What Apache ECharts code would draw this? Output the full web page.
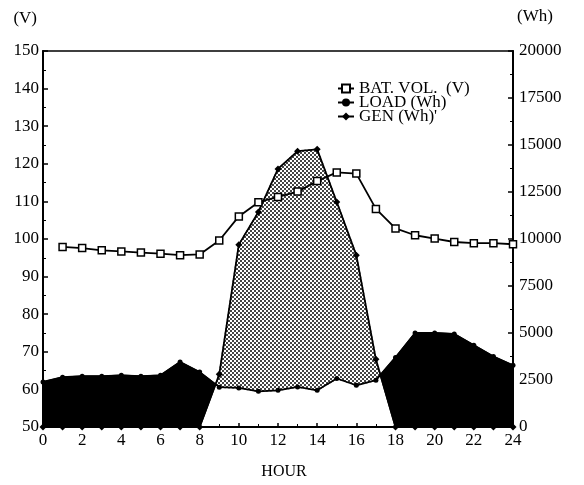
<!DOCTYPE html>
<html>
<head>
<meta charset="utf-8">
<script src="https://cdn.jsdelivr.net/npm/echarts@6/dist/echarts.min.js"></script>
<style>
  html, body { margin: 0; padding: 0; background: #fff; }
  #main { width: 584px; height: 485px; }
</style>
</head>
<body>
<div id="main"></div>
<script>
var hours = [0, 1, 2, 3, 4, 5, 6, 7, 8, 9, 10, 11, 12, 13, 14, 15, 16, 17, 18, 19, 20, 21, 22, 23, 24];
// battery voltage (V), no reading at hour 0
var batVol = [null, 97.9, 97.6, 97.0, 96.7, 96.4, 96.1, 95.7, 95.9, 99.6, 106.0, 109.8, 111.2, 112.6, 115.4, 117.7, 117.4, 108.0, 102.8, 101.0, 100.1, 99.2, 98.9, 98.9, 98.6];
// load (Wh)
var load = [2400, 2650, 2700, 2700, 2750, 2700, 2750, 3460, 2920, 2120, 2080, 1900, 1950, 2130, 1950, 2580, 2220, 2490, 3700, 5000, 5000, 4950, 4350, 3750, 3280];
// generation (Wh)
var gen = [0, 0, 0, 0, 0, 0, 0, 0, 0, 2800, 9700, 11440, 13730, 14670, 14770, 11970, 9130, 3600, 0, 0, 0, 0, 0, 0, 0];

var voltTicks = [50, 150, 10];
var whTicks = [0, 20000, 2500];

var FONT = 'Liberation Serif';

// stipple tile for the surplus area
var tile = document.createElement('canvas');
tile.width = 4;
tile.height = 4;
var tctx = tile.getContext('2d');
tctx.fillStyle = '#fff';
tctx.fillRect(0, 0, 4, 4);
tctx.fillStyle = '#444';
tctx.fillRect(0, 0, 2, 2);
tctx.fillRect(2, 2, 2, 2);
var stipple = { image: tile, repeat: 'repeat' };

// one band segment per hour step: [h0, load0, gen0, h1, load1, gen1]
var bands = [];
for (var i = 0; i < hours.length - 1; i++) {
    bands.push([hours[i], load[i], gen[i], hours[i + 1], load[i + 1], gen[i + 1]]);
}

function renderBand(params, api) {
    var h0 = api.value(0), l0 = api.value(1), g0 = api.value(2);
    var h1 = api.value(3), l1 = api.value(4), g1 = api.value(5);
    var L0 = api.coord([h0, l0]), G0 = api.coord([h0, g0]);
    var L1 = api.coord([h1, l1]), G1 = api.coord([h1, g1]);
    var d0 = l0 - g0, d1 = l1 - g1;
    function styleFor(d) {
        var f = d > 0 ? '#000' : stipple;
        return { fill: f, stroke: f, lineWidth: 1.5, lineJoin: 'round' };
    }
    var children = [];
    if (d0 * d1 < 0) {
        var t = d0 / (d0 - d1);
        var C = [L0[0] + t * (L1[0] - L0[0]), L0[1] + t * (L1[1] - L0[1])];
        children.push({ type: 'polygon', shape: { points: [L0, C, G0] }, style: styleFor(d0) });
        children.push({ type: 'polygon', shape: { points: [C, L1, G1] }, style: styleFor(d1) });
    } else {
        if (d0 === 0 && d1 === 0) return;
        children.push({ type: 'polygon', shape: { points: [L0, L1, G1, G0] }, style: styleFor(d0 + d1) });
    }
    return { type: 'group', children: children };
}

var myChart = echarts.init(document.getElementById('main'));

var option = {
    backgroundColor: '#fff',
    animation: false,
    textStyle: { fontFamily: FONT, color: '#000' },
    grid: {
        left: 43, right: 71, top: 51, bottom: 58,
        show: true, borderColor: '#000', borderWidth: 1.5
    },
    legend: {
        orient: 'vertical',
        left: 332, top: 75,
        itemWidth: 16, itemHeight: 10, itemGap: -3,
        textStyle: { fontFamily: FONT, fontSize: 17, color: '#000', lineHeight: 14 },
        data: ['BAT. VOL.  (V)', 'LOAD (Wh)', "GEN (Wh)'"]
    },
    xAxis: {
        type: 'value',
        min: 0, max: 24, interval: 2,
        name: 'HOUR',
        nameLocation: 'middle',
        nameGap: 37,
        nameTextStyle: { fontFamily: FONT, fontSize: 16, color: '#000', padding: [0, 0, 0, 12] },
        axisLine: { lineStyle: { color: '#000', width: 2 } },
        axisTick: { inside: true, length: 4, lineStyle: { color: '#000', width: 1.5 } },
        minorTick: { show: true, splitNumber: 2, length: 3, lineStyle: { color: '#000' } },
        axisLabel: { fontFamily: FONT, fontSize: 17, color: '#000', margin: 5 },
        splitLine: { show: false }
    },
    yAxis: [{
        type: 'value',
        min: voltTicks[0], max: voltTicks[1], interval: voltTicks[2],
        name: '(V)',
        nameLocation: 'end',
        nameGap: 24,
        nameTextStyle: { fontFamily: FONT, fontSize: 17, color: '#000', align: 'right', padding: [0, 6, 0, 0] },
        axisLine: { lineStyle: { color: '#000', width: 2 } },
        axisTick: { inside: true, length: 5, lineStyle: { color: '#000', width: 1.5 } },
        minorTick: { show: true, splitNumber: 2, length: 3, lineStyle: { color: '#000' } },
        axisLabel: { fontFamily: FONT, fontSize: 17, color: '#000', margin: 4 },
        splitLine: { show: false }
    }, {
        type: 'value',
        position: 'right',
        min: whTicks[0], max: whTicks[1], interval: whTicks[2],
        name: '(Wh)',
        nameLocation: 'end',
        nameGap: 26,
        nameTextStyle: { fontFamily: FONT, fontSize: 17, color: '#000', align: 'left', padding: [0, 0, 0, 4] },
        axisLine: { lineStyle: { color: '#000', width: 2 } },
        axisTick: { inside: true, length: 5, lineStyle: { color: '#000', width: 1.5 } },
        minorTick: { show: true, splitNumber: 2, length: 3, lineStyle: { color: '#000' } },
        axisLabel: {
            fontFamily: FONT, fontSize: 17, color: '#000', margin: 6,
            formatter: function (v) { return String(v); }
        },
        splitLine: { show: false }
    }],
    series: [{
        type: 'custom',
        name: 'bands',
        xAxisIndex: 0,
        yAxisIndex: 1,
        z: 1,
        silent: true,
        renderItem: renderBand,
        encode: { x: [0, 3], y: [1, 2, 4, 5] },
        data: bands
    }, {
        type: 'line',
        name: 'BAT. VOL.  (V)',
        yAxisIndex: 0,
        z: 4,
        data: hours.map(function (h, i) { return [h, batVol[i]]; }),
        symbol: 'rect',
        symbolSize: 7,
        lineStyle: { color: '#000', width: 1.8 },
        itemStyle: { color: '#fff', borderColor: '#000', borderWidth: 1.5 }
    }, {
        type: 'line',
        name: 'LOAD (Wh)',
        yAxisIndex: 1,
        z: 3,
        data: hours.map(function (h, i) { return [h, load[i]]; }),
        symbol: 'circle',
        symbolSize: 5,
        lineStyle: { color: '#000', width: 1.8 },
        itemStyle: { color: '#000' }
    }, {
        type: 'line',
        name: "GEN (Wh)'",
        yAxisIndex: 1,
        z: 3,
        data: hours.map(function (h, i) { return [h, gen[i]]; }),
        symbol: 'diamond',
        symbolSize: 7,
        lineStyle: { color: '#000', width: 1.8 },
        itemStyle: { color: '#000' }
    }]
};

myChart.setOption(option);
</script>
</body>
</html>
